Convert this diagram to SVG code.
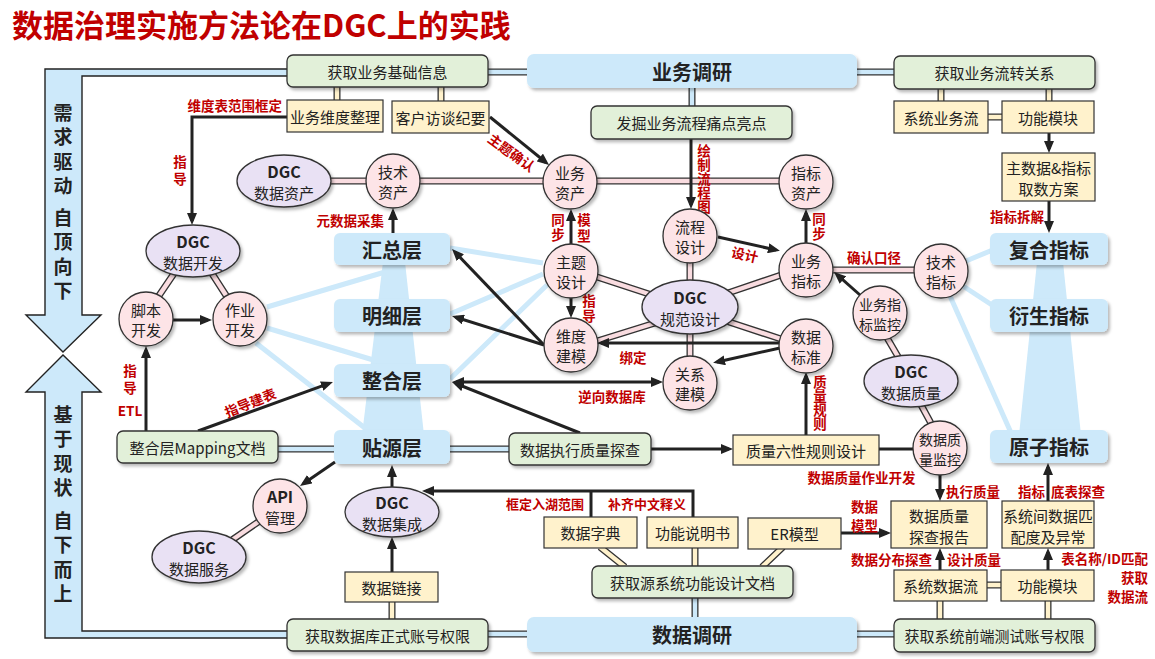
<svg xmlns="http://www.w3.org/2000/svg" width="1155" height="659" viewBox="0 0 1155 659">
<style>
text{font-family:"Noto Sans CJK SC","Liberation Sans",sans-serif}
.t{font-size:15px;fill:#222;text-anchor:middle;dominant-baseline:central}
.h{font-size:20px;font-weight:bold}
.d{font-size:16px;font-weight:bold}
.k{font-size:14px}
.v{font-size:19px;font-weight:bold}
.r{font-size:13.5px;font-weight:bold;fill:#C00000}
.q{font-size:13px}
.s{text-anchor:start}
.n{text-anchor:end}
.vt{writing-mode:vertical-rl}
.g{fill:#E2F0D9;stroke:#333;stroke-width:1.3;filter:url(#sh)}
.y{fill:#FFF2CC;stroke:#333;stroke-width:1.2}
.b{fill:#CDE9FA;filter:url(#sh)}
.c{fill:#FDE4E7;stroke:#333;stroke-width:1.3;filter:url(#sh)}
.e{fill:#E9E1F4;stroke:#333;stroke-width:1.3;filter:url(#sh)}
.ar{stroke:#222;stroke-width:3;fill:none;marker-end:url(#ah)}
.ln{stroke:#222;stroke-width:3;fill:none}
.lb{stroke:#CDE9FA;stroke-width:5;fill:none}
.fan{fill:#CDE9FA}
.po{stroke:#333;stroke-width:7;fill:none}
.pp{stroke:#F9DCE0;stroke-width:4.4;fill:none}
.py{stroke:#FFF2CC;stroke-width:4.4;fill:none}
.pb{stroke:#CDE9FA;stroke-width:4.4;fill:none}
.brk{fill:#CDE9FA;stroke:#222;stroke-width:1.4}
</style>
<defs>
<filter id="sh" x="-20%" y="-20%" width="150%" height="170%"><feDropShadow dx="2" dy="2.5" stdDeviation="1.5" flood-color="#000" flood-opacity="0.28"/></filter>
<marker id="ah" viewBox="0 0 12 10" refX="8" refY="5" markerWidth="12" markerHeight="10" markerUnits="userSpaceOnUse" orient="auto-start-reverse"><path d="M0,0 L12,5 L0,10 z" fill="#222"/></marker>
<g id="pipP">
<path d="M328,181H370M416,181H546M594,181H783M829,270H918"/>
<path d="M594,276L655,296M690,259V284M725,294L784,274M655,323L594,342M690,330V360M726,321L784,340"/>
<path d="M175,272L156,300M211,272L229,300M886,336L900,360M920,403L933,427M261,520L232,540"/>
</g>
<g id="pipY">
<path d="M337,86V101M441,86V102M941,88V102M1049,88V102M987,117H1003"/>
<path d="M392,601V620M625,567L600,547M695,567V547M762,567L783,547M940,600V620M1048,600V620M986,585H1002"/>
</g>
<g id="pipB">
<path d="M487,72H528M856,72H895M692,87V107M277,449H335M449,449H510M695,597V618M487,634H528M856,634H895"/>
</g>
</defs>

<text x="12" y="37" style="font-size:31px;font-weight:bold;fill:#C00000">数据治理实施方法论在DGC上的实践</text>

<g id="side-bracket">
<polygon class="brk" points="288,69 45,69 45,315 26,315 63,352 101,315 82,315 82,76 288,76"/>
<polygon class="brk" points="288,638 45,638 45,392 26,392 63,355 101,392 82,392 82,631 288,631"/>
<text class="t v vt" x="63" y="152" style="letter-spacing:5.5px">需求驱动</text>
<text class="t v vt" x="63" y="257" style="letter-spacing:5.5px">自顶向下</text>
<text class="t v vt" x="63" y="454" style="letter-spacing:5.5px">基于现状</text>
<text class="t v vt" x="63" y="560" style="letter-spacing:5.5px">自下而上</text>
</g>

<g id="connectors">
<g id="light-links">
<polygon class="fan" points="383,262 405,262 424,435 362,435"/>
<polygon class="fan" points="1037,262 1063,262 1081,435 1019,435"/>
<path class="lb" d="M543,263L450,248M543,274L450,314M547,285L450,379"/>
<path class="lb" d="M267,307L385,272M267,328L380,362M256,343L370,432"/>
<path class="lb" d="M966,261L995,249M963,286L995,307M950,296L1012,435"/>
</g>
<use href="#pipP" class="po"/><use href="#pipP" class="pp"/>
<use href="#pipY" class="po"/><use href="#pipY" class="py"/>
<use href="#pipB" class="po"/><use href="#pipB" class="pb"/>
<g id="arrows">
<path class="ar" d="M287,117H192V221"/>
<path class="ar" d="M490,117L546,162.5"/>
<path class="ar" d="M691,139V205"/>
<path class="ar" d="M571,246V213"/>
<path class="ar" d="M571,298V314"/>
<path class="ar" d="M718,237L776,250"/>
<path class="ar" d="M806,244V213"/>
<path class="ar" d="M393,233V212"/>
<path class="ar" d="M860,295L837,274.7"/>
<path class="ar" d="M779,343H601"/>
<path class="ar" d="M780,348L717,362"/>
<path class="ar" d="M806,435V376"/>
<path class="ar" d="M456,382H659" style="marker-start:url(#ah)"/>
<path class="ar" d="M580,433L455.7,383.5"/>
<path class="ar" d="M544,345L454.8,251.9"/>
<path class="ar" d="M544,345L455.8,317.2"/>
<path class="ar" d="M651,449H729"/>
<path class="ln" d="M879,449H913"/>
<path class="ar" d="M940,475V497"/>
<path class="ar" d="M841,533H887"/>
<path class="ar" d="M940,570V552"/>
<path class="ar" d="M1048,570V552"/>
<path class="ar" d="M1048,501V467"/>
<path class="ar" d="M1049,133V149"/>
<path class="ar" d="M1049,201V229"/>
<path class="ar" d="M591,517V491M693,517V491H426"/>
<path class="ar" d="M392,572V541"/>
<path class="ar" d="M392,487V469"/>
<path class="ar" d="M335,462L303.3,483.7"/>
<path class="ar" d="M146,431V350"/>
<path class="ar" d="M198,431L329.2,383.4"/>
<path class="ar" d="M173,320H208"/>
</g>
<g id="labels">
<text class="t r n" x="282" y="105">维度表范围框定</text>
<text class="t r vt" x="180" y="172" style="letter-spacing:3px">指导</text>
<text class="t r" x="512" y="152" transform="rotate(36 512 152)">主题确认</text>
<text class="t r n" x="384" y="220">元数据采集</text>
<text class="t r vt" x="558" y="228.5" style="letter-spacing:2px">同步</text>
<text class="t r vt" x="584" y="229.5" style="letter-spacing:3px">模型</text>
<text class="t r vt" x="704" y="179.5" style="letter-spacing:0.5px">绘制流程图</text>
<text class="t r" x="745" y="254" transform="rotate(13 745 254)">设计</text>
<text class="t r vt" x="819" y="227.5" style="letter-spacing:2px">同步</text>
<text class="t r" x="874" y="257">确认口径</text>
<text class="t r vt" x="589" y="309.5" style="letter-spacing:2px">指导</text>
<text class="t r" x="633" y="357">绑定</text>
<text class="t r" x="612" y="396">逆向数据库</text>
<text class="t r vt" x="820" y="403" style="letter-spacing:0.5px">质量规则</text>
<text class="t r n" x="1044" y="216">指标拆解</text>
<text class="t r vt" x="130" y="381" style="letter-spacing:3px">指导</text>
<text class="t r" x="130" y="410">ETL</text>
<text class="t r" x="250" y="402" transform="rotate(-22 250 402)">指导建表</text>
<text class="t r q n" x="584" y="503">框定入湖范围</text>
<text class="t r q s" x="608" y="503">补齐中文释义</text>
<text class="t r" x="861.5" y="477">数据质量作业开发</text>
<text class="t r s" x="946" y="491">执行质量</text>
<text class="t r" x="864.5" y="505.5">数据</text>
<text class="t r" x="864.5" y="524.5">模型</text>
<text class="t r n" x="932" y="559">数据分布探查</text>
<text class="t r s" x="947" y="559">设计质量</text>
<text class="t r n" x="1045" y="491">指标</text>
<text class="t r s" x="1051" y="491">底表探查</text>
<text class="t r n" x="1148" y="557.5">表名称/ID匹配</text>
<text class="t r n" x="1148" y="576.5">获取</text>
<text class="t r n" x="1148" y="595.5">数据流</text>
</g>
</g>

<g id="n-jcxx"><rect class="g" x="287" y="55" width="201" height="32" rx="6"/><text class="t" x="387.5" y="71">获取业务基础信息</text></g>
<g id="n-ywdy"><rect class="b" x="527" y="54" width="330" height="34" rx="7"/><text class="t h" x="692" y="71">业务调研</text></g>
<g id="n-lzgx"><rect class="g" x="894" y="56" width="201" height="33" rx="6"/><text class="t" x="994.5" y="72.5">获取业务流转关系</text></g>
<g id="n-wdzl"><rect class="y" x="287" y="100" width="96" height="32"/><text class="t" x="335" y="116">业务维度整理</text></g>
<g id="n-fthy"><rect class="y" x="392" y="101" width="97" height="32"/><text class="t" x="440.5" y="117">客户访谈纪要</text></g>
<g id="n-fjtd"><rect class="g" x="591" y="106" width="201" height="33" rx="6"/><text class="t" x="691.5" y="122.5">发掘业务流程痛点亮点</text></g>
<g id="n-xtywl"><rect class="y" x="894" y="101" width="94" height="32"/><text class="t" x="941" y="117">系统业务流</text></g>
<g id="n-gnmk1"><rect class="y" x="1002" y="101" width="92" height="32"/><text class="t" x="1048" y="117">功能模块</text></g>
<g id="n-zsj"><rect class="y" x="1002" y="153" width="93" height="48"/><text class="t" x="1048.5" y="167">主数据&amp;指标</text><text class="t" x="1048.5" y="188">取数方案</text></g>

<g id="n-dgczc"><ellipse class="e" cx="284" cy="181" rx="47" ry="26"/><text class="t d" x="284" y="170.5">DGC</text><text class="t" x="284" y="192">数据资产</text></g>
<g id="n-jszc"><circle class="c" cx="393" cy="181" r="27"/><text class="t" x="393" y="171">技术</text><text class="t" x="393" y="191">资产</text></g>
<g id="n-ywzc"><circle class="c" cx="570" cy="182" r="27"/><text class="t" x="570" y="172">业务</text><text class="t" x="570" y="192">资产</text></g>
<g id="n-zbzc"><circle class="c" cx="806" cy="182" r="27"/><text class="t" x="806" y="172">指标</text><text class="t" x="806" y="192">资产</text></g>
<g id="n-lcsj"><circle class="c" cx="690" cy="236" r="27"/><text class="t" x="690" y="226">流程</text><text class="t" x="690" y="246">设计</text></g>
<g id="n-ztsj"><circle class="c" cx="571" cy="271" r="27"/><text class="t" x="571" y="261">主题</text><text class="t" x="571" y="281">设计</text></g>
<g id="n-ywzb"><circle class="c" cx="806" cy="270" r="27"/><text class="t" x="806" y="260">业务</text><text class="t" x="806" y="280">指标</text></g>
<g id="n-jszb"><circle class="c" cx="941" cy="271" r="27"/><text class="t" x="941" y="261">技术</text><text class="t" x="941" y="281">指标</text></g>
<g id="n-wdjm"><circle class="c" cx="571" cy="345" r="27"/><text class="t" x="571" y="335">维度</text><text class="t" x="571" y="355">建模</text></g>
<g id="n-sjbz"><circle class="c" cx="806" cy="346" r="27"/><text class="t" x="806" y="336">数据</text><text class="t" x="806" y="356">标准</text></g>
<g id="n-gxjm"><circle class="c" cx="690" cy="383" r="27"/><text class="t" x="690" y="373">关系</text><text class="t" x="690" y="393">建模</text></g>
<g id="n-gfsj"><ellipse class="e" cx="690" cy="307" rx="48" ry="27"/><text class="t d" x="690" y="296.5">DGC</text><text class="t" x="690" y="318">规范设计</text></g>
<g id="n-ywzbjk"><circle class="c" cx="880" cy="313" r="27"/><text class="t k" x="880" y="303.5">业务指</text><text class="t k" x="880" y="323.5">标监控</text></g>
<g id="n-dgczl"><ellipse class="e" cx="911" cy="381" rx="47" ry="26"/><text class="t d" x="911" y="370.5">DGC</text><text class="t" x="911" y="392">数据质量</text></g>
<g id="n-sjzljk"><circle class="c" cx="940" cy="448" r="27"/><text class="t k" x="940" y="438.5">数据质</text><text class="t k" x="940" y="458.5">量监控</text></g>

<g id="n-hzc"><rect class="b" x="334" y="233" width="116" height="32" rx="6"/><text class="t h" x="392" y="249">汇总层</text></g>
<g id="n-mxc"><rect class="b" x="334" y="299" width="116" height="33" rx="6"/><text class="t h" x="392" y="315.5">明细层</text></g>
<g id="n-zhc"><rect class="b" x="334" y="364" width="116" height="33" rx="6"/><text class="t h" x="392" y="380.5">整合层</text></g>
<g id="n-tyc"><rect class="b" x="334" y="430" width="116" height="34" rx="6"/><text class="t h" x="392" y="447">贴源层</text></g>
<g id="n-fhzb"><rect class="b" x="990" y="233" width="118" height="32" rx="6"/><text class="t h" x="1049" y="249">复合指标</text></g>
<g id="n-yszb"><rect class="b" x="990" y="299" width="118" height="33" rx="6"/><text class="t h" x="1049" y="315.5">衍生指标</text></g>
<g id="n-yzzb"><rect class="b" x="990" y="430" width="118" height="33" rx="6"/><text class="t h" x="1049" y="446.5">原子指标</text></g>

<g id="n-dgckf"><ellipse class="e" cx="193" cy="251" rx="47" ry="26"/><text class="t d" x="193" y="240.5">DGC</text><text class="t" x="193" y="262">数据开发</text></g>
<g id="n-jbkf"><circle class="c" cx="146" cy="319" r="27"/><text class="t" x="146" y="309">脚本</text><text class="t" x="146" y="329">开发</text></g>
<g id="n-zykf"><circle class="c" cx="240" cy="319" r="27"/><text class="t" x="240" y="309">作业</text><text class="t" x="240" y="329">开发</text></g>
<g id="n-mapping"><rect class="g" x="117" y="431" width="161" height="32" rx="6"/><text class="t" x="197.5" y="447">整合层Mapping文档</text></g>
<g id="n-api"><circle class="c" cx="280" cy="506" r="27"/><text class="t d" x="280" y="495.5">API</text><text class="t" x="280" y="517">管理</text></g>
<g id="n-dgcfw"><ellipse class="e" cx="199" cy="557" rx="47" ry="26"/><text class="t d" x="199" y="546.5">DGC</text><text class="t" x="199" y="568">数据服务</text></g>
<g id="n-dgcjc"><ellipse class="e" cx="392" cy="512" rx="47" ry="25"/><text class="t d" x="392" y="501.5">DGC</text><text class="t" x="392" y="523">数据集成</text></g>
<g id="n-sjlj"><rect class="y" x="345" y="572" width="93" height="30"/><text class="t" x="391.5" y="587">数据链接</text></g>
<g id="n-sjzxtc"><rect class="g" x="509" y="433" width="142" height="32" rx="6"/><text class="t" x="580" y="449">数据执行质量探查</text></g>
<g id="n-zllx"><rect class="y" x="733" y="435" width="146" height="30"/><text class="t" x="806" y="450">质量六性规则设计</text></g>
<g id="n-sjzd"><rect class="y" x="544" y="517" width="93" height="31"/><text class="t" x="590.5" y="532.5">数据字典</text></g>
<g id="n-gnsms"><rect class="y" x="647" y="517" width="91" height="31"/><text class="t" x="692.5" y="532.5">功能说明书</text></g>
<g id="n-er"><rect class="y" x="748" y="518" width="93" height="31"/><text class="t" x="794.5" y="533.5">ER模型</text></g>
<g id="n-tcbg"><rect class="y" x="891" y="501" width="96" height="47"/><text class="t" x="939" y="515">数据质量</text><text class="t" x="939" y="536">探查报告</text></g>
<g id="n-ppd"><rect class="y" x="1002" y="501" width="92" height="47"/><text class="t" x="1048" y="515">系统间数据匹</text><text class="t" x="1048" y="536">配度及异常</text></g>
<g id="n-yxtwd"><rect class="g" x="592" y="566" width="201" height="32" rx="6"/><text class="t" x="692.5" y="582">获取源系统功能设计文档</text></g>
<g id="n-xtsjl"><rect class="y" x="894" y="570" width="93" height="31"/><text class="t" x="940.5" y="585.5">系统数据流</text></g>
<g id="n-gnmk2"><rect class="y" x="1001" y="570" width="93" height="31"/><text class="t" x="1047.5" y="585.5">功能模块</text></g>
<g id="n-zhqx"><rect class="g" x="287" y="619" width="201" height="32" rx="6"/><text class="t" x="387.5" y="635">获取数据库正式账号权限</text></g>
<g id="n-sjdy"><rect class="b" x="527" y="617" width="330" height="35" rx="7"/><text class="t h" x="692" y="634.5">数据调研</text></g>
<g id="n-csqx"><rect class="g" x="894" y="619" width="201" height="33" rx="6"/><text class="t" x="994.5" y="635.5">获取系统前端测试账号权限</text></g>
</svg>
